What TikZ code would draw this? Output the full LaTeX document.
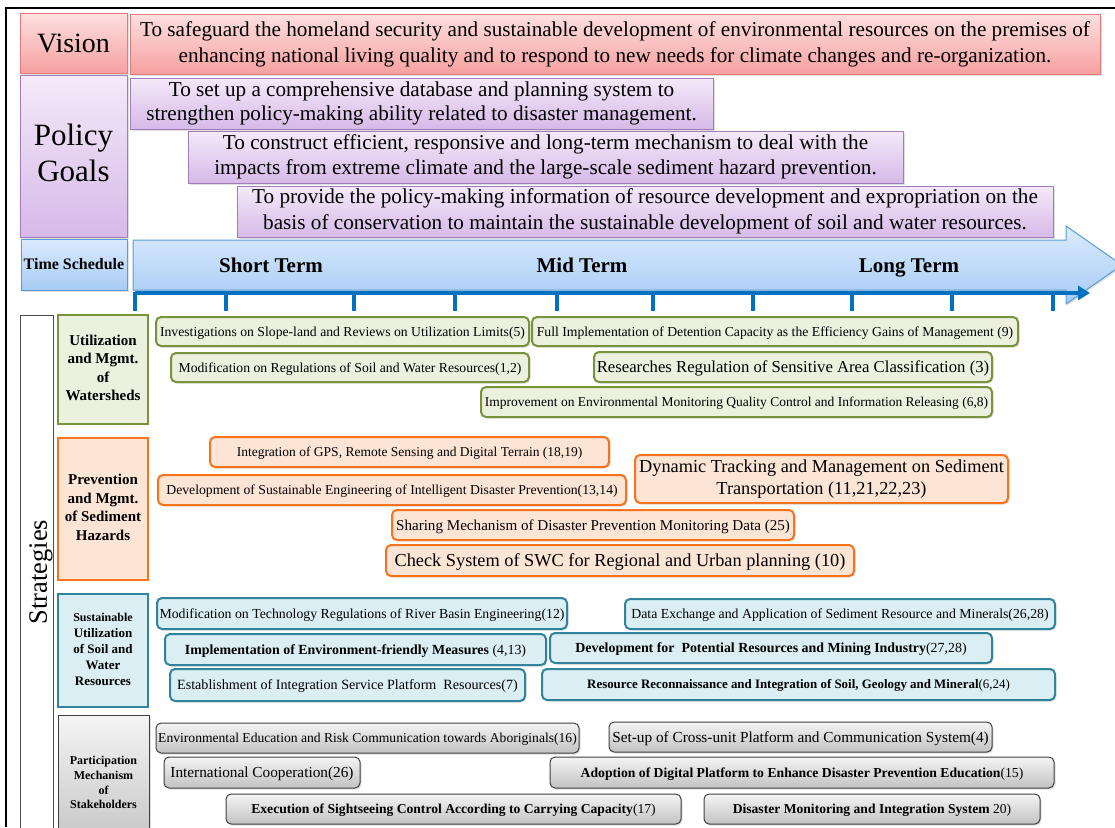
\documentclass[tikz,border=0pt]{standalone}
\usepackage{fontspec}
\setmainfont{Liberation Serif}
\usetikzlibrary{shadows,arrows.meta}
\definecolor{visTop}{HTML}{FDE0E0}
\definecolor{visBot}{HTML}{F7A0A0}
\definecolor{visLine}{HTML}{E47A7A}
\definecolor{golTop}{HTML}{F4EAF9}
\definecolor{golBot}{HTML}{D6B9E8}
\definecolor{golLine}{HTML}{A07DB8}
\definecolor{timTop}{HTML}{DCEBFD}
\definecolor{timBot}{HTML}{A6CBF5}
\definecolor{timLine}{HTML}{5B9BD5}
\definecolor{tline}{HTML}{0070C0}
\definecolor{grFill}{HTML}{EBF1DE}
\definecolor{grLine}{HTML}{77933C}
\definecolor{orFill}{HTML}{FDE5D6}
\definecolor{orLine}{HTML}{F8731C}
\definecolor{blFill}{HTML}{DAEEF3}
\definecolor{blLine}{HTML}{31849B}
\definecolor{gyTop}{HTML}{F4F4F4}
\definecolor{gyBot}{HTML}{C2C2C2}
\definecolor{gyLine}{HTML}{3F3F3F}
\newcommand{\fs}[1]{\fontsize{#1pt}{\dimexpr #1pt*123/100\relax}\selectfont}
\newcommand{\bx}[7]{\node[#2, minimum width={#5-#3}, minimum height={#6-#4}] (#1) at ({(#3+#5)/2},{(#4+#6)/2}) {#7};}
\tikzset{
  base/.style={inner sep=0pt, outer sep=0pt, align=center,
    execute at begin node={\rule{0pt}{0.89em}},
    execute at end node={\rule[-0.22em]{0pt}{0pt}}},
  topstrut/.style={execute at begin node={\rule{0pt}{#1}}},
  shad/.style={drop shadow={opacity=0.25,shadow xshift=1.5pt,shadow yshift=-1.5pt}},
  visbox/.style={base, shad, draw=visLine, line width=1pt, top color=visTop, bottom color=visBot},
  golbox/.style={base, shad, draw=golLine, line width=1pt, top color=golTop, bottom color=golBot},
  timbox/.style={base, shad, draw=timLine, line width=1pt, top color=timTop, bottom color=timBot},
  grcat/.style={base, draw=grLine, line width=2.8pt, fill=grFill, font=\bfseries\fs{15}},
  orcat/.style={base, draw=orLine, line width=2.8pt, fill=orFill, font=\bfseries\fs{15}},
  blcat/.style={base, draw=blLine, line width=2.8pt, fill=blFill, font=\bfseries\fs{13}},
  gycat/.style={base, shad, draw=gyLine, line width=0.8pt, top color=gyTop, bottom color=gyBot, font=\bfseries\fs{12}},
  gritem/.style={base, shad, draw=grLine, line width=2pt, fill=grFill, rounded corners=5pt},
  oritem/.style={base, shad, draw=orLine, line width=2pt, fill=orFill, rounded corners=5pt},
  blitem/.style={base, shad, draw=blLine, line width=2pt, fill=blFill, rounded corners=5pt},
  gyitem/.style={base, shad, draw=gyLine, line width=1pt, top color=gyTop, bottom color=gyBot, rounded corners=5pt},
  term/.style={base, font=\bfseries\fs{21}},
  tick/.style={draw=tline, line width=3.5pt}
}
\begin{document}
\begin{tikzpicture}[x=1pt,y=-1pt]
\useasboundingbox (0,0) rectangle (1115,827);
\clip (0,0) rectangle (1115,827);
\fill[white] (0,0) rectangle (1115,827);
% frame
\draw[line width=1.2pt] (6,827) -- (6,8) -- (1115,8);
% vision
\bx{vis}{visbox, font=\fs{28}}{20}{13}{127}{73}{Vision}
\bx{vistext}{visbox, topstrut=1.2em, font=\fontsize{21.2pt}{26pt}\selectfont}{130}{14}{1100}{74}{To safeguard the homeland security and sustainable development of environmental resources on the premises of\\enhancing national living quality and to respond to new needs for climate changes and re-organization.}
% policy goals
\bx{pol}{golbox, topstrut=1.2em, font=\fontsize{31pt}{36pt}\selectfont}{20}{75}{127}{237}{Policy\\Goals}
\bx{g1}{golbox, topstrut=1.2em, font=\fontsize{21.2pt}{24.5pt}\selectfont}{130}{78}{713}{129}{To set up a comprehensive database and planning system to\\strengthen policy-making ability related to disaster management.}
\bx{g2}{golbox, topstrut=1.2em, font=\fontsize{21.2pt}{25pt}\selectfont}{188}{131}{903}{183}{To construct efficient, responsive and long-term mechanism to deal with the\\impacts from extreme climate and the large-scale sediment hazard prevention.}
\bx{g3}{golbox, topstrut=1.2em, font=\fontsize{21.2pt}{25.5pt}\selectfont}{237}{186}{1053}{237}{To provide the policy-making information of resource development and expropriation on the\\basis of conservation to maintain the sustainable development of soil and water resources.}
% time schedule
\bx{tim}{timbox, font=\bfseries\fs{16}}{21}{239}{127}{290}{Time Schedule}
\path[shad, draw=timLine, line width=1pt, top color=timTop, bottom color=timBot]
  (133,240) -- (1066,240) -- (1066,226) -- (1122,265) -- (1066,304) -- (1066,290) -- (133,290) -- cycle;
\node[term] (st) at (271,265) {Short Term};
\node[term] (mt) at (582,265) {Mid Term};
\node[term] (lt) at (909,265) {Long Term};
% timeline
\coordinate (tl0) at (135,293);
\coordinate (tl1) at (1090,293);
\draw[draw=tline, line width=4pt, -{Triangle[length=12pt,width=14pt]}] (tl0) -- (tl1);
\foreach \t in {135,226,354,455,557,653,753,852,952,1053} {\draw[tick] (\t,292) -- (\t,311);}
% strategies
\bx{strat}{base, draw=black!70, line width=1pt, fill=white}{20}{315}{53}{840}{}
\node[base, rotate=90, font=\fs{26.5}] (stratlabel) at (38,572) {Strategies};
% categories
\bx{c1}{grcat}{58}{315}{148}{424}{Utilization\\and Mgmt.\\of\\Watersheds}
\bx{c2}{orcat}{58}{438}{148}{580}{Prevention\\and Mgmt.\\of Sediment\\Hazards}
\bx{c3}{blcat}{58}{594}{148}{707}{{\fs{12}Sustainable}\\Utilization\\of Soil and\\Water\\Resources}
\bx{c4}{gycat}{58}{715}{149}{853}{Participation\\Mechanism\\of\\Stakeholders}
% green items
\bx{a1}{gritem, font=\fs{13.7}}{156}{317}{529}{346}{Investigations on Slope-land and Reviews on Utilization Limits(5)}
\bx{a2}{gritem, font=\fs{13.7}}{532}{317}{1018}{346}{Full Implementation of Detention Capacity as the Efficiency Gains of Management (9)}
\bx{a3}{gritem, font=\fs{13.7}}{171}{353}{529}{382}{Modification on Regulations of Soil and Water Resources(1,2)}
\bx{a4}{gritem, font=\fs{16.7}}{594}{352}{992}{382}{Researches Regulation of Sensitive Area Classification (3)}
\bx{a5}{gritem, font=\fs{13.5}}{481}{387}{992}{417}{Improvement on Environmental Monitoring Quality Control and Information Releasing (6,8)}
% orange items
\bx{b1}{oritem, font=\fs{13.5}}{210}{437}{609}{467}{Integration of GPS, Remote Sensing and Digital Terrain (18,19)}
\bx{b2}{oritem, font=\fs{13.7}}{158}{475}{626}{505}{Development of Sustainable Engineering of Intelligent Disaster Prevention(13,14)}
\bx{b3}{oritem, font=\fs{18.3}}{635}{455}{1008}{503}{Dynamic Tracking and Management on Sediment\\Transportation (11,21,22,23)}
\bx{b4}{oritem, font=\fs{15.1}}{392}{510}{794}{540}{Sharing Mechanism of Disaster Prevention Monitoring Data (25)}
\bx{b5}{oritem, font=\fs{18.3}}{386}{545}{854}{576}{Check System of SWC for Regional and Urban planning (10)}
% blue items
\bx{d1}{blitem, font=\fs{13.8}}{157}{598}{567}{629}{Modification on Technology Regulations of River Basin Engineering(12)}
\bx{d2}{blitem, font=\fs{13.8}}{625}{599}{1055}{629}{Data Exchange and Application of Sediment Resource and Minerals(26,28)}
\bx{d3}{blitem, font=\fs{13.9}}{165}{634}{546}{665}{\textbf{Implementation of Environment-friendly Measures} (4,13)}
\bx{d4}{blitem, font=\fs{13.9}}{550}{633}{992}{663}{\textbf{Development for\ \ Potential Resources and Mining Industry}(27,28)}
\bx{d5}{blitem, font=\fs{14.1}}{170}{669}{525}{701}{Establishment of Integration Service Platform\ \ Resources(7)}
\bx{d6}{blitem, font=\fs{12.9}}{542}{669}{1055}{700}{\textbf{Resource Reconnaissance and Integration of Soil, Geology and Mineral}(6,24)}
% gray items
\bx{e1}{gyitem, font=\fs{13.6}}{156}{723}{579}{753}{Environmental Education and Risk Communication towards Aboriginals(16)}
\bx{e2}{gyitem, font=\fs{15.3}}{609}{722}{992}{752}{Set-up of Cross-unit Platform and Communication System(4)}
\bx{e3}{gyitem, font=\fs{15.3}}{164}{757}{360}{788}{International Cooperation(26)}
\bx{e4}{gyitem, font=\fs{13.7}}{550}{757}{1054}{788}{\textbf{Adoption of Digital Platform to Enhance Disaster Prevention Education}(15)}
\bx{e5}{gyitem, font=\fs{13.6}}{226}{794}{681}{824}{\textbf{Execution of Sightseeing Control According to Carrying Capacity}(17)}
\bx{e6}{gyitem, font=\fs{13.6}}{704}{794}{1040}{824}{\textbf{Disaster Monitoring and Integration System} 20)}
\end{tikzpicture}
\end{document}
